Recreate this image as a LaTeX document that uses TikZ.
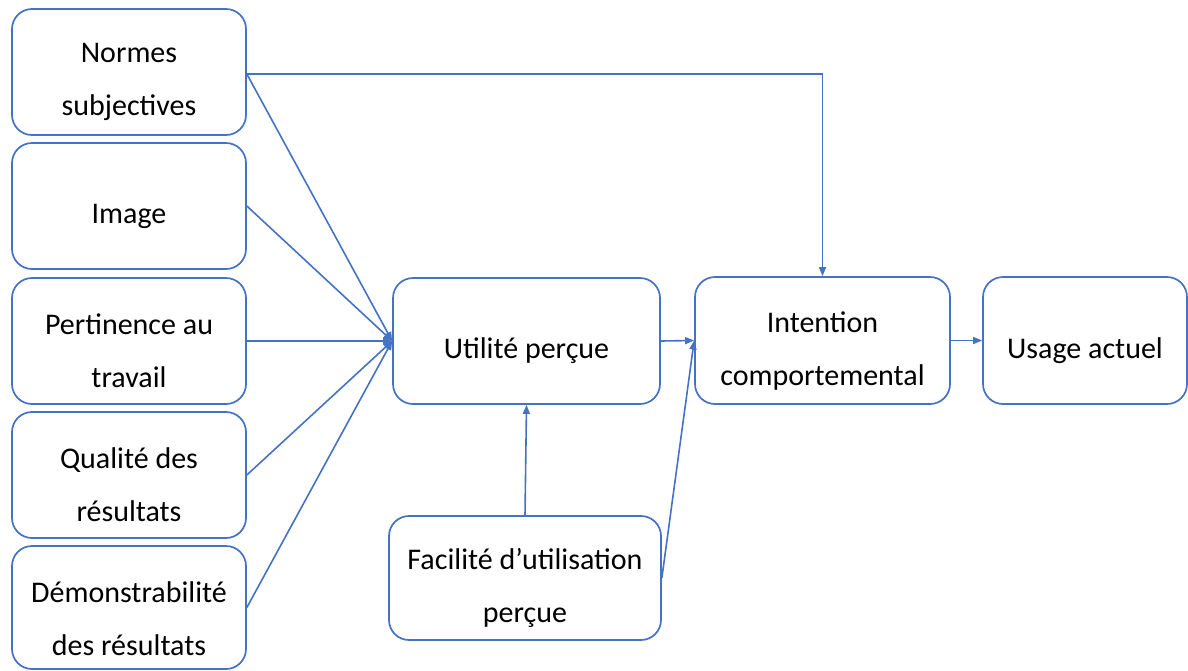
\documentclass[tikz,border=0pt]{standalone}
\usepackage{fontspec}
\setmainfont{Carlito}
\usetikzlibrary{arrows.meta}
\definecolor{obl}{HTML}{4472C4}
\begin{document}
\begin{tikzpicture}[x=1pt,y=-1pt,
  box/.style={draw=obl,line width=1.7pt,rounded corners=20pt,fill=white,inner sep=0pt},
  txt/.style={font=\fontsize{30}{53}\selectfont,align=center,inner sep=0pt},
  arr/.style={draw=obl,line width=1.6pt,-{Triangle[length=9pt,width=7pt]}},
  ln/.style={draw=obl,line width=1.6pt}]
\useasboundingbox (0,0) rectangle (1188,670);
% left column
\node[box,minimum width=234pt,minimum height=126pt] (n1) at (129,72) {};
\node[box,minimum width=234pt,minimum height=126pt] (n2) at (129,206) {};
\node[box,minimum width=234pt,minimum height=126pt] (n3) at (129,341) {};
\node[box,minimum width=234pt,minimum height=126pt] (n4) at (129,475) {};
\node[box,minimum width=234pt,minimum height=123pt] (n5) at (129,607.5) {};
% middle and right
\node[box,minimum width=267pt,minimum height=126pt] (ut) at (526.5,341) {};
\node[box,minimum width=272pt,minimum height=124pt] (fa) at (525,578) {};
\node[box,minimum width=255pt,minimum height=127pt] (in) at (822.5,340.5) {};
\node[box,minimum width=204pt,minimum height=127pt] (us) at (1085,340.5) {};
% texts
\node[txt] (t1) at (129,82) {Normes\\subjectives};
\node[txt] (t2) at (129,216) {Image};
\node[txt] (t3) at (129,351) {Pertinence au\\travail};
\node[txt] (t4) at (129,485) {Qualité des\\résultats};
\node[txt] (t5) at (129,619) {Démonstrabilité\\des résultats};
\node[txt] (tu) at (526.5,351) {Utilité perçue};
\node[txt] (tf) at (525,588) {Facilité d’utilisation\\perçue};
\node[txt] (ti) at (822.5,351) {Intention\\comportemental};
\node[txt] (ts) at (1085,351) {Usage actuel};
% connectors
\draw[arr] ([yshift=-2pt]n1.east) -| (in.north);
\draw[arr] ([yshift=-2pt]n1.east) -- (ut.west);
\draw[arr] (n2.east) -- (ut.west);
\draw[arr] (n3.east) -- (ut.west);
\draw[arr] (n4.east) -- (ut.west);
\draw[arr] (n5.east) -- (ut.west);
\draw[arr] (ut.east) -- (in.west);
\draw[arr] (fa.east) -- (in.west);
\draw[arr] (fa.north) -- (ut.south);
\draw[arr] (in.east) -- (us.west);
\end{tikzpicture}
\end{document}
